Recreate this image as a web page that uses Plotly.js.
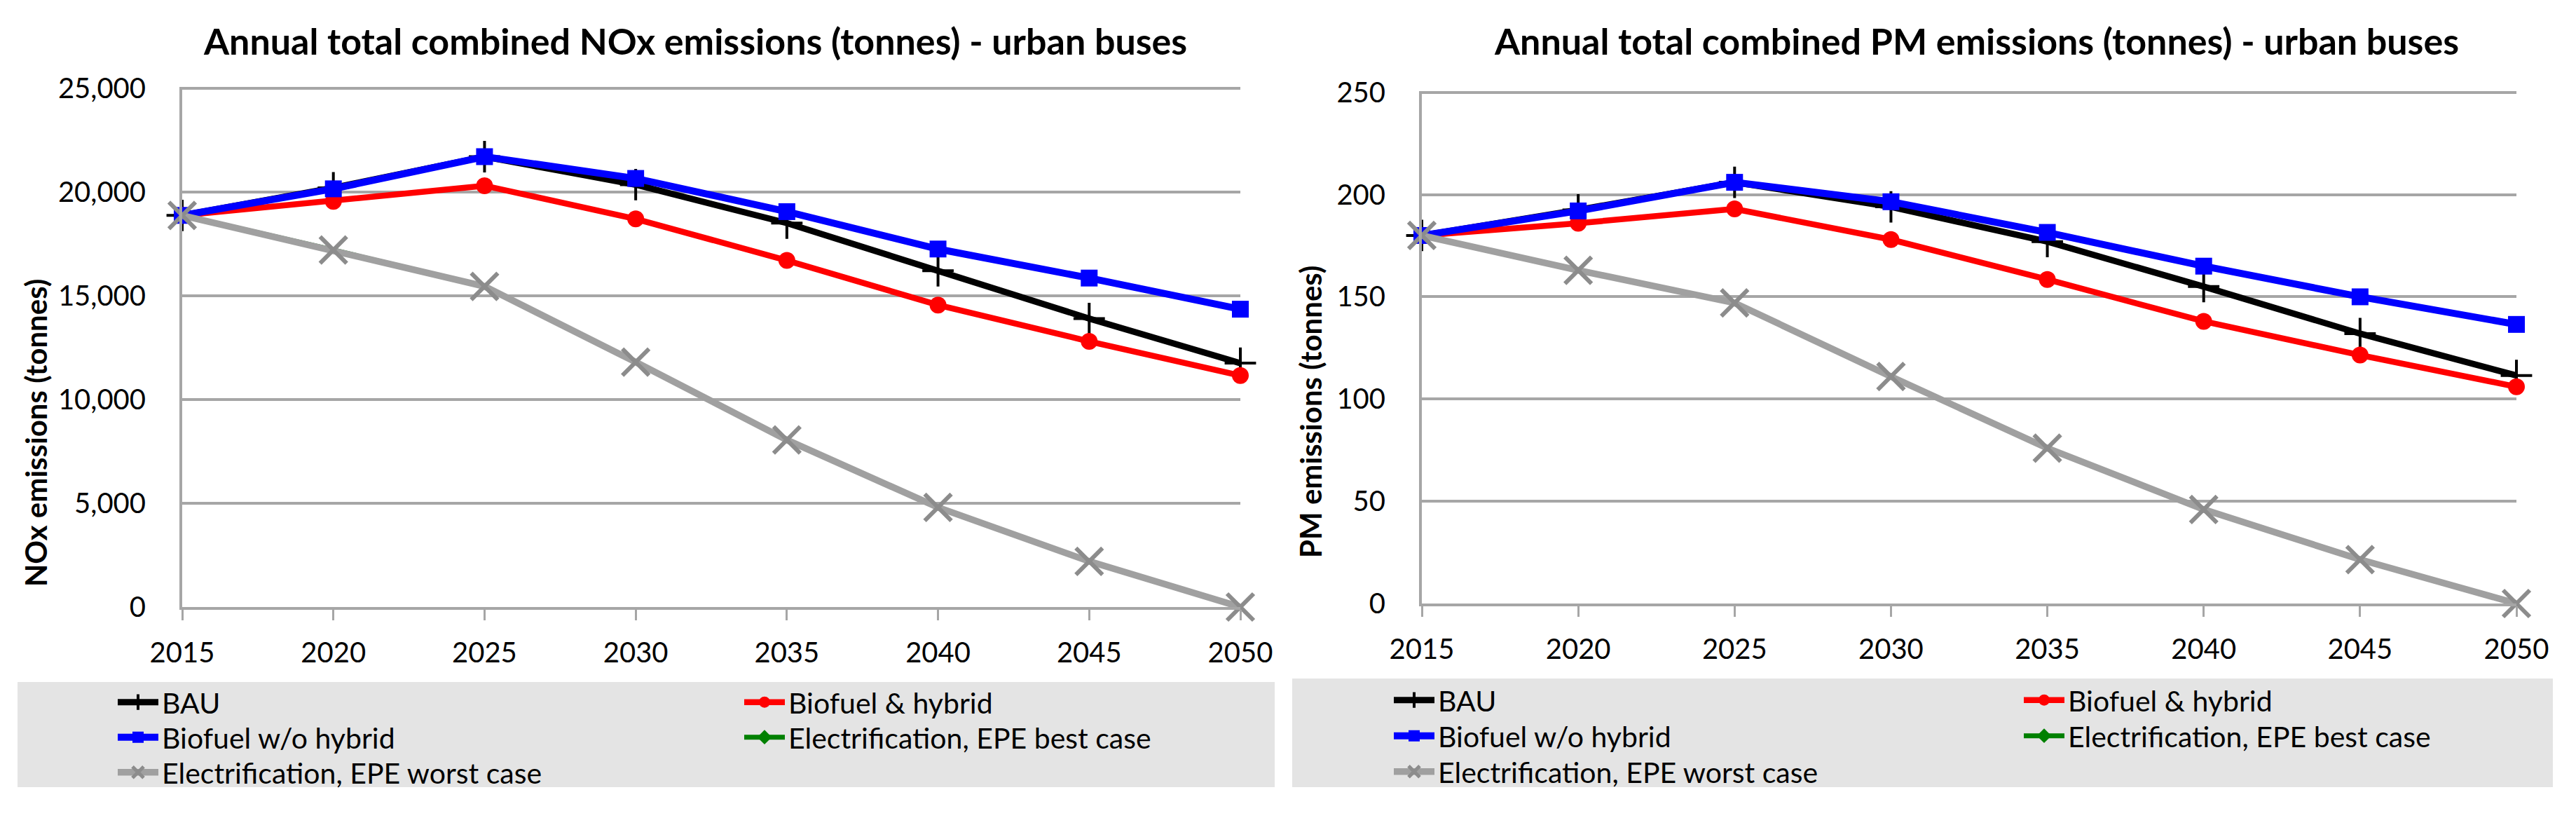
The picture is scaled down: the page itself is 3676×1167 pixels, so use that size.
<!DOCTYPE html>
<html>
<head>
<meta charset="utf-8">
<script src="https://cdn.plot.ly/plotly-3.0.1.min.js"></script>
<style>
  html, body { margin: 0; padding: 0; background: #ffffff; }
  #chart { width: 3676px; height: 1167px; }
</style>
</head>
<body>
<div id="chart"></div>
<script>
// ---------------- DATA ----------------
const years = [2015, 2020, 2025, 2030, 2035, 2040, 2045, 2050];

const seriesNames = [
  "BAU",
  "Biofuel & hybrid",
  "Biofuel w/o hybrid",
  "Electrification, EPE best case",
  "Electrification, EPE worst case"
];

// Annual total combined NOx emissions (tonnes)
const noxBAU        = [18870, 20200, 21700, 20350, 18500, 16200, 13900, 11750];
const noxBioHybrid  = [18870, 19550, 20300, 18700, 16700, 14550, 12800, 11150];
const noxBioNoHyb   = [18870, 20150, 21700, 20650, 19050, 17250, 15850, 14350];
const noxElecBest   = [18870, 17200, 15450, 11800,  8050,  4800,  2200,     0];
const noxElecWorst  = [18870, 17200, 15450, 11800,  8050,  4800,  2200,     0];

// Annual total combined PM emissions (tonnes)
const pmBAU         = [180, 192.5, 206, 194,   177,   155, 132,   111.5];
const pmBioHybrid   = [180, 186,   193, 178,   158.5, 138, 121.5, 106];
const pmBioNoHyb    = [180, 192,   206, 196.5, 181.5, 165, 150,   136.5];
const pmElecBest    = [180, 163,   147, 111,    76,    46,  21.5,   0];
const pmElecWorst   = [180, 163,   147, 111,    76,    46,  21.5,   0];

const titleNOx = "Annual total combined NOx emissions (tonnes) - urban buses";
const titlePM  = "Annual total combined PM emissions (tonnes) - urban buses";
const yTitleNOx = "NOx emissions (tonnes)";
const yTitlePM  = "PM emissions (tonnes)";

// ---------------- STYLE ----------------
const W = 3676, H = 1167;
const px = x => x / W;
const py = y => 1 - y / H;
const FONT = "Lato, 'Open Sans', sans-serif";
const GRID = "#a6a6a6";

const styles = [
  { line: { color: "#000000", width: 9 },
    marker: { symbol: "cross-thin", size: 32, color: "#000000", line: { color: "#000000", width: 4 } } },
  { line: { color: "#ff0000", width: 8.5 },
    marker: { symbol: "circle", size: 24, color: "#ff0000", line: { width: 0 } } },
  { line: { color: "#0000ff", width: 10 },
    marker: { symbol: "square", size: 24, color: "#0000ff", line: { width: 0 } } },
  // best case coincides with the worst case and lies hidden beneath it
  { line: { color: "#008000", width: 7 },
    marker: { symbol: "diamond", size: 22, color: "#008000", line: { width: 0 }, maxdisplayed: 1 } },
  { line: { color: "#a0a0a0", width: 9.5 },
    marker: { symbol: "x-thin", size: 38, color: "#8c8c8c", line: { color: "#8c8c8c", width: 6 } } }
];

// drawing order (bottom to top)
const drawOrder = [3, 0, 1, 2, 4];

// legend grid: rows / columns of each series
const legRow = [0, 0, 1, 1, 2];
const legCol = [0, 1, 0, 1, 0];

const noxData = [noxBAU, noxBioHybrid, noxBioNoHyb, noxElecBest, noxElecWorst];
const pmData  = [pmBAU, pmBioHybrid, pmBioNoHyb, pmElecBest, pmElecWorst];

function legendId(n) { return n === 1 ? "legend" : "legend" + n; }

const traces = [];
function addTraces(dataSets, xa, ya, legendOffset) {
  drawOrder.forEach(i => {
    traces.push({
      type: "scatter", mode: "lines+markers",
      x: years, y: dataSets[i], name: seriesNames[i],
      xaxis: xa, yaxis: ya,
      legend: legendId(legendOffset + i + 1),
      line: styles[i].line, marker: styles[i].marker,
      cliponaxis: false
    });
  });
}
addTraces(noxData, "x", "y", 0);
addTraces(pmData, "x2", "y2", 5);

function xAxis(domain, anchor) {
  return {
    domain: domain, anchor: anchor,
    range: [2015, 2050],
    tickmode: "array", tickvals: years, ticktext: years.map(String),
    showgrid: false, zeroline: false,
    showline: true, linecolor: GRID, linewidth: 4,
    ticks: "outside", ticklen: 15, tickwidth: 3, tickcolor: GRID,
    ticklabelstandoff: 12,
    tickfont: { family: FONT, size: 40, color: "#000000" },
    fixedrange: true
  };
}
function yAxis(domain, anchor, top, dtick) {
  return {
    domain: domain, anchor: anchor,
    range: [0, top], dtick: dtick, tick0: 0,
    tickformat: ",d",
    showgrid: true, gridcolor: GRID, gridwidth: 4,
    zeroline: false,
    showline: true, linecolor: GRID, linewidth: 4,
    ticks: "", ticklabelstandoff: 40,
    tickfont: { family: FONT, size: 40, color: "#000000" },
    fixedrange: true
  };
}

function legendAt(x, y) {
  return {
    x: px(x), y: py(y), xanchor: "left", yanchor: "middle",
    xref: "paper", yref: "paper",
    orientation: "v",
    bgcolor: "rgba(0,0,0,0)", borderwidth: 0,
    font: { family: FONT, size: 41, color: "#000000" },
    itemwidth: 58, tracegroupgap: 0,
    itemclick: false, itemdoubleclick: false
  };
}

const layout = {
  width: W, height: H,
  margin: { l: 0, r: 0, t: 0, b: 0 },
  paper_bgcolor: "#ffffff", plot_bgcolor: "#ffffff",
  showlegend: true,
  xaxis:  xAxis([px(260), px(1770)], "y"),
  yaxis:  yAxis([py(866), py(124)], "x", 25060, 5000),
  xaxis2: xAxis([px(2029), px(3591)], "y2"),
  yaxis2: yAxis([py(861), py(130)], "x2", 250.6, 50),
  shapes: [
    { type: "rect", xref: "paper", yref: "paper", layer: "below",
      x0: px(25), x1: px(1819), y0: py(1123), y1: py(973),
      fillcolor: "#e4e4e4", line: { width: 0 } },
    { type: "rect", xref: "paper", yref: "paper", layer: "below",
      x0: px(1844), x1: px(3643), y0: py(1123), y1: py(968),
      fillcolor: "#e4e4e4", line: { width: 0 } }
  ],
  annotations: [
    { text: "<b>" + titleNOx + "</b>", xref: "paper", yref: "paper",
      x: px(992), y: py(58), xanchor: "center", yanchor: "middle", showarrow: false,
      font: { family: FONT, size: 52, color: "#000000" } },
    { text: "<b>" + titlePM + "</b>", xref: "paper", yref: "paper",
      x: px(2820), y: py(58), xanchor: "center", yanchor: "middle", showarrow: false,
      font: { family: FONT, size: 52, color: "#000000" } },
    { text: "<b>" + yTitleNOx + "</b>", xref: "paper", yref: "paper", textangle: -90,
      x: px(51), y: py(618), xanchor: "center", yanchor: "middle", showarrow: false,
      font: { family: FONT, size: 42, color: "#000000" } },
    { text: "<b>" + yTitlePM + "</b>", xref: "paper", yref: "paper", textangle: -90,
      x: px(1870), y: py(588), xanchor: "center", yanchor: "middle", showarrow: false,
      font: { family: FONT, size: 42, color: "#000000" } }
  ]
};

// legend placement: one legend per entry, laid out in a 2-column grid inside each grey box
const leftColX  = [163, 1057], leftRowY  = [1002, 1052, 1102];
const rightColX = [1984, 2883], rightRowY = [999, 1050, 1101];
for (let i = 0; i < 5; i++) {
  layout[legendId(i + 1)] = legendAt(leftColX[legCol[i]], leftRowY[legRow[i]]);
  layout[legendId(i + 6)] = legendAt(rightColX[legCol[i]], rightRowY[legRow[i]]);
}

Plotly.newPlot("chart", traces, layout, { displayModeBar: false, staticPlot: true });
</script>
</body>
</html>
